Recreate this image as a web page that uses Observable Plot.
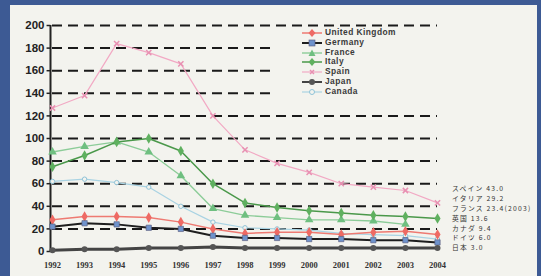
<!DOCTYPE html>
<html>
<head>
<meta charset="utf-8">
<script src="https://cdn.jsdelivr.net/npm/d3@7"></script>
<script src="https://cdn.jsdelivr.net/npm/@observablehq/plot@0.6"></script>
<style>
  html, body { margin: 0; padding: 0; }
  body { width: 541px; height: 276px; background: #3d5a94; position: relative; overflow: hidden; font-family: "Liberation Sans", Arial, sans-serif; }
  #panel { position: absolute; left: 10px; top: 5px; width: 527px; height: 275px; background: #f3f3ee; }
  #chart { position: absolute; left: 0; top: 0; }
  #legendbox { position: absolute; left: 272px; top: 31px; width: 168px; height: 74px; background: #f3f3ee; }
  #legend { position: absolute; left: 302px; top: 28px; font-size: 8.4px; font-weight: bold; color: #3a3a3a; letter-spacing: 0.45px; }
  #legend .row { display: flex; align-items: center; height: 9.8px; line-height: 9.8px; }
  #legend svg { margin-right: 3px; flex: none; }
  #notes { position: absolute; left: 452px; top: 184px; font-size: 6.8px; color: #333; font-family: "Noto Sans CJK JP", sans-serif; white-space: nowrap; letter-spacing: 1.2px; }
  #notes div { height: 9.9px; line-height: 9.9px; }
</style>
</head>
<body>
<div id="panel"></div>
<div id="chart"></div>
<div id="legendbox"></div>
<div id="legend"></div>
<div id="notes"></div>
<script>
const years = [1992, 1993, 1994, 1995, 1996, 1997, 1998, 1999, 2000, 2001, 2002, 2003, 2004];
const yTicks = [0, 20, 40, 60, 80, 100, 120, 140, 160, 180, 200];
const seriesNames = ["United Kingdom", "Germany", "France", "Italy", "Spain", "Japan", "Canada"];
const uk      = [28, 31, 31, 30, 26, 20, 16, 17, 17, 15, 17, 18, 15];
const germany = [22, 25, 24, 21, 20, 14, 12, 12, 11, 11, 10, 10, 8];
const france  = [88, 93, 97, 88, 67, 38, 32, 30, 28, 28, 27, 24, null];
const italy   = [75, 85, 97, 100, 89, 60, 43, 39, 36, 34, 32, 31, 29.2];
const spain   = [127, 138, 184, 176, 166, 120, 90, 78, 70, 60, 57, 54, 43];
const japan   = [1, 2, 2, 3, 3, 4, 3, 3, 3, 3, 3, 3, 3];
const canada  = [62, 64, 61, 57, 40, 26, 21, 20, 19, 16, 15, 14, 11];
const notes = ["スペイン 43.0", "イタリア 29.2", "フランス 23.4(2003)", "英国 13.6", "カナダ 9.4", "ドイツ 6.0", "日本 3.0"];

const styles = {
  "United Kingdom": {line: "#ee7a72", fill: "#ee6a64", symbol: "diamond", w: 1.5, r: 3.2},
  "Germany":        {line: "#1e1e1e", fill: "#6f93cc", symbol: "square", w: 2, r: 3},
  "France":         {line: "#8ccc98", fill: "#6fbf80", symbol: "triangle", w: 1.4, r: 3.2},
  "Italy":          {line: "#4a984a", fill: "#5fb05f", symbol: "diamond", w: 1.5, r: 3.2},
  "Spain":          {line: "#f2a9c4", fill: "#e890b2", symbol: "times", w: 1.2, r: 2.5},
  "Japan":          {line: "#444444", fill: "#555555", symbol: "circle", w: 3, r: 3},
  "Canada":         {line: "#a9d3e3", fill: "#bfe0ec", symbol: "circle", w: 1.2, r: 2.2}
};
const valuesByName = {"United Kingdom": uk, "Germany": germany, "France": france, "Italy": italy, "Spain": spain, "Japan": japan, "Canada": canada};

const rows = seriesNames.flatMap(name =>
  valuesByName[name].map((v, i) => ({name, year: years[i], value: v})).filter(d => d.value != null));

const drawOrder = ["Canada", "Spain", "France", "Italy", "United Kingdom", "Germany", "Japan"];
const seriesMarks = drawOrder.flatMap(name => {
  const s = styles[name];
  const d = rows.filter(r => r.name === name);
  const marks = [Plot.lineY(d, {x: "year", y: "value", stroke: s.line, strokeWidth: s.w})];
  if (s.symbol === "times") {
    marks.push(Plot.dot(d, {x: "year", y: "value", symbol: "times", r: s.r, stroke: s.fill, strokeWidth: 1.5}));
  } else if (name === "Canada") {
    marks.push(Plot.dot(d, {x: "year", y: "value", symbol: "circle", r: s.r, stroke: "#8fc3d8", fill: "#f3f3ee", strokeWidth: 1}));
  } else {
    marks.push(Plot.dot(d, {x: "year", y: "value", symbol: s.symbol, r: s.r, fill: s.fill, stroke: name === "Germany" ? "#557" : "none", strokeWidth: 0.6}));
  }
  return marks;
});

const chart = Plot.plot({
  width: 541,
  height: 276,
  marginLeft: 52,
  marginRight: 104,
  marginTop: 25,
  marginBottom: 25,
  style: {background: "transparent", fontFamily: "Liberation Sans, Arial, sans-serif", color: "#222"},
  x: {type: "linear", domain: [1992, 2004], axis: null},
  y: {type: "linear", domain: [0, 200], axis: null},
  marks: [
    Plot.ruleY(yTicks.filter(t => t > 0), {stroke: "#1a1a1a", strokeWidth: 2, strokeDasharray: "10,6"}),
    Plot.ruleX([1992], {dx: -2, y1: 0, y2: 200, stroke: "#222", strokeWidth: 2}),
    Plot.ruleY(yTicks, {x1: 1991.83, x2: 1991.95, stroke: "#222", strokeWidth: 1.5}),
    Plot.text(yTicks, {x: 1992, y: d => d, text: d => String(d), textAnchor: "end", dx: -8, fontSize: 11.5, fontWeight: "bold", fill: "#222", fontFamily: "Liberation Sans Narrow, Liberation Sans, Arial, sans-serif"}),
    Plot.text(years, {x: d => d, y: 0, text: d => String(d), dy: 14, fontSize: 8.5, fontWeight: "bold", fill: "#333", fontFamily: "Liberation Serif, serif"}),
    ...seriesMarks
  ]
});
document.getElementById("chart").appendChild(chart);

// Legend
const legend = document.getElementById("legend");
seriesNames.forEach(name => {
  const s = styles[name];
  const row = document.createElement("div");
  row.className = "row";
  let marker;
  if (s.symbol === "square") marker = `<rect x="7" y="2" width="6" height="6" fill="${s.fill}" stroke="#557" stroke-width="0.6"/>`;
  else if (s.symbol === "triangle") marker = `<path d="M10,1.5 L13.5,8 L6.5,8 Z" fill="${s.fill}"/>`;
  else if (s.symbol === "diamond") marker = `<path d="M10,1 L13.5,5 L10,9 L6.5,5 Z" fill="${s.fill}"/>`;
  else if (s.symbol === "times") marker = `<path d="M8,3 L12,7 M12,3 L8,7" stroke="${s.fill}" stroke-width="1.5"/>`;
  else if (name === "Canada") marker = `<circle cx="10" cy="5" r="2.5" fill="#f3f3ee" stroke="#8fc3d8"/>`;
  else marker = `<circle cx="10" cy="5" r="3" fill="${s.fill}"/>`;
  row.innerHTML = `<svg width="20" height="10"><line x1="0" x2="20" y1="5" y2="5" stroke="${s.line}" stroke-width="${Math.min(s.w, 2)}"/>${marker}</svg><span>${name}</span>`;
  legend.appendChild(row);
});

// Notes
const notesDiv = document.getElementById("notes");
notes.forEach(t => {
  const d = document.createElement("div");
  d.textContent = t;
  notesDiv.appendChild(d);
});
</script>
</body>
</html>
